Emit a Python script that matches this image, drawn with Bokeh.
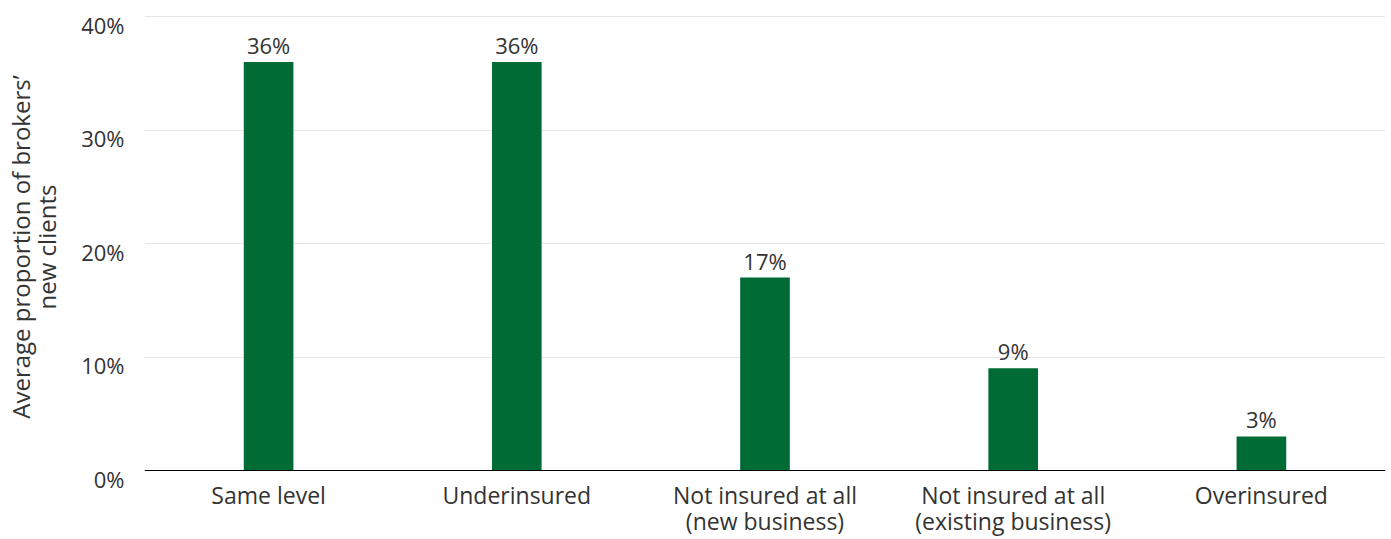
from bokeh.plotting import figure
from bokeh.models import (ColumnDataSource, FixedTicker, Range1d, Span,
                          CustomJSTickFormatter)
from bokeh.core.properties import value
from bokeh.embed import file_html
from bokeh.resources import INLINE

categories = ["Same level", "Underinsured", "Not insured at all\n(new business)",
              "Not insured at all\n(existing business)", "Overinsured"]
values = [0.36, 0.36, 0.17, 0.09, 0.03]
value_labels = ["36%", "36%", "17%", "9%", "3%"]
y_ticks = [0, 0.1, 0.2, 0.3, 0.4]

FONT = "Open Sans"
GREEN = "#006b35"
TEXT = "#333333"
FS = "22px"

PX = 0.4 / 454            # data units per pixel
SHIFT = 8 * PX            # tick labels sit ~8px below their gridlines

src = ColumnDataSource(dict(cat=categories, val=values, lab=value_labels))

p = figure(x_range=categories, y_range=Range1d(-SHIFT, 0.4 + PX),
           width=1386, height=539, output_backend="svg",
           toolbar_location=None,
           min_border_left=143, min_border_right=1, min_border_top=15,
           min_border_bottom=61)
p.outline_line_color = None

p.vbar(x="cat", top="val", bottom=0, width=0.2, source=src, color=GREEN,
       line_color=None)
p.text(x="cat", y="val", text="lab", source=src, y_offset=-2,
       text_align="center", text_baseline="bottom",
       text_font=value(FONT), text_font_size=FS, text_color=TEXT)

p.xgrid.grid_line_color = None
p.ygrid.grid_line_color = "#e6e6e6"
p.ygrid.grid_line_width = 1
p.ygrid.ticker = FixedTicker(ticks=y_ticks[1:])

p.add_layout(Span(location=0, dimension="width", line_color="#000000",
                  line_width=1))

p.yaxis.ticker = FixedTicker(ticks=[t - SHIFT for t in y_ticks])
p.yaxis.formatter = CustomJSTickFormatter(
    args=dict(shift=SHIFT),
    code="return Math.round((tick + shift) * 100) + '%'")
p.yaxis.axis_line_color = None
p.yaxis.major_tick_line_color = None
p.yaxis.minor_tick_line_color = None
p.yaxis.major_label_text_font = FONT
p.yaxis.major_label_text_font_size = FS
p.yaxis.major_label_text_color = TEXT
p.yaxis.major_label_standoff = 14
p.yaxis.axis_label = "Average proportion of brokers’\nnew clients"
p.yaxis.axis_label_text_font = FONT
p.yaxis.axis_label_text_font_size = "24px"
p.yaxis.axis_label_text_font_style = "normal"
p.yaxis.axis_label_text_color = TEXT
p.yaxis.axis_label_text_line_height = 0.8
p.yaxis.axis_label_standoff = 15

p.xaxis.axis_line_color = None
p.xaxis.major_tick_line_color = None
p.xaxis.minor_tick_line_color = None
p.xaxis.major_label_text_font = FONT
p.xaxis.major_label_text_font_size = "23px"
p.xaxis.major_label_text_color = TEXT
p.xaxis.major_label_text_line_height = 0.82
p.xaxis.major_label_standoff = -6

open("out.html", "w").write(file_html(p, INLINE))
